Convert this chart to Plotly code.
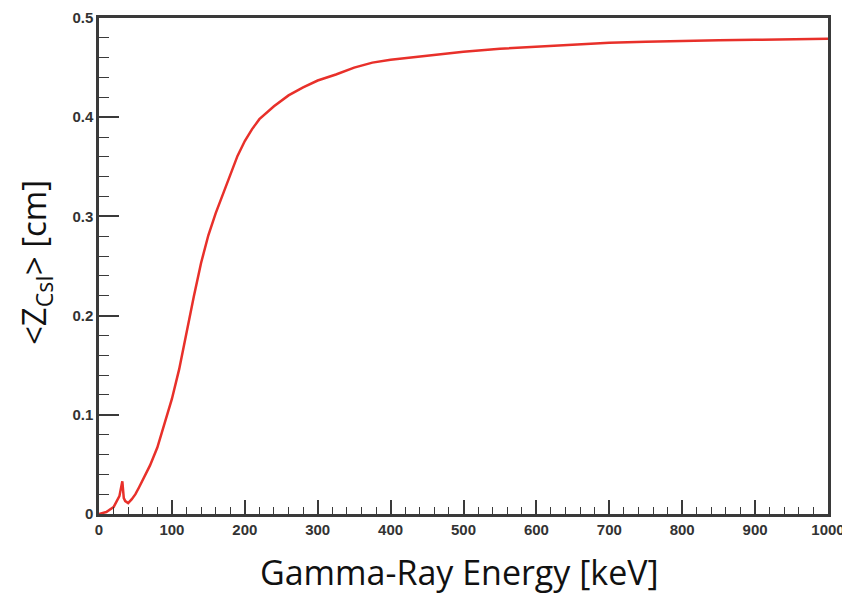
import plotly.graph_objects as go

energy_keV = [0, 10, 20, 28, 32, 34, 36, 40, 45, 50, 55, 60, 70, 80, 90, 100, 110, 120,
              130, 140, 150, 160, 170, 180, 190, 200, 210, 220, 240, 260, 280, 300, 325, 350,
              375, 400, 450, 500, 550, 600, 650, 700, 750, 800, 850, 900, 950, 1000]
mean_depth_cm = [0.0, 0.002, 0.007, 0.018, 0.033, 0.016, 0.013, 0.011, 0.015, 0.020, 0.027,
                 0.034, 0.049, 0.067, 0.091, 0.116, 0.146, 0.184, 0.219, 0.253, 0.281, 0.303,
                 0.323, 0.343, 0.361, 0.376, 0.388, 0.398, 0.411, 0.422, 0.430, 0.437, 0.443,
                 0.450, 0.455, 0.458, 0.462, 0.466, 0.469, 0.471, 0.473, 0.475, 0.476, 0.477,
                 0.4775, 0.478, 0.4785, 0.479]

x_title = "Gamma-Ray Energy [keV]"
y_title = "&lt;Z<sub>CsI</sub>&gt; [cm]"

fig = go.Figure()
fig.add_trace(go.Scatter(x=energy_keV, y=mean_depth_cm, mode="lines",
                         line=dict(color="#e8302a", width=2.5), showlegend=False))

axis_common = dict(
    showgrid=False, zeroline=False, showline=True, mirror=True, automargin=False,
    linecolor="#3a3a3a", linewidth=2.5, ticks="inside", tickcolor="#3a3a3a",
    tickwidth=1.5,
    tickfont=dict(family="Liberation Sans", size=15, color="#333333", weight="bold"),
)

fig.update_xaxes(range=[0, 1000], dtick=100, tick0=0, ticklen=14,
                 minor=dict(dtick=20, ticks="inside", ticklen=7, tickcolor="#3a3a3a", tickwidth=1.2),
                 **axis_common)
fig.update_yaxes(range=[0, 0.5], dtick=0.1, tick0=0, ticklen=20,
                 minor=dict(dtick=0.02, ticks="inside", ticklen=10, tickcolor="#3a3a3a", tickwidth=1.2),
                 **axis_common)

fig.add_annotation(text=x_title, xref="paper", yref="paper", x=0.4945, y=-0.117,
                   xanchor="center", yanchor="middle", showarrow=False,
                   font=dict(family="Open Sans", size=34, color="#111111"))
fig.add_annotation(text=y_title, xref="paper", yref="paper", x=-0.0878, y=0.508,
                   xanchor="center", yanchor="middle", showarrow=False, textangle=-90,
                   borderpad=0,
                   font=dict(family="Open Sans", size=33, color="#111111"))

# page body has an 8px margin; size the figure so it fits the 850x597 window
fig.update_layout(width=842, height=589, margin=dict(l=91, r=22, t=10, b=83),
                  plot_bgcolor="white", paper_bgcolor="white")

fig.write_html("out.html")
